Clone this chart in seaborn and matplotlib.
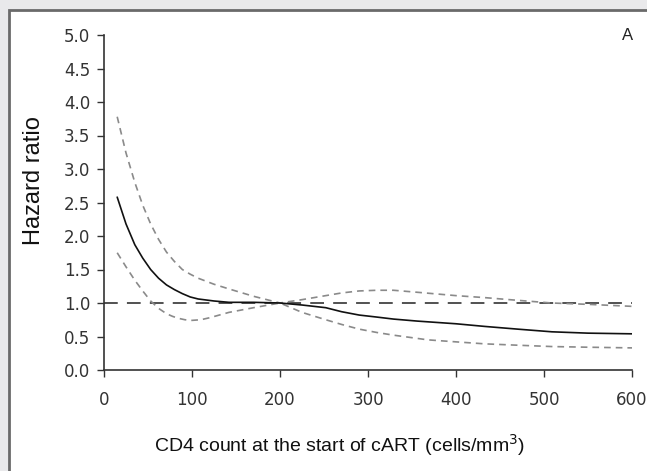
import matplotlib.pyplot as plt
import matplotlib.patches as mpatches
import pandas as pd
import seaborn as sns

# CD4 count at start of cART (cells/mm3)
hr_x = [15, 25, 35, 44, 53, 62, 71, 80, 89, 98, 107, 125, 142, 170, 200, 225, 252, 270, 290, 310, 329, 356, 400, 433, 470, 509, 550, 600]
hr_y = [2.58, 2.18, 1.87, 1.67, 1.50, 1.37, 1.27, 1.20, 1.14, 1.09, 1.06, 1.03, 1.01, 1.01, 1.00, 0.97, 0.93, 0.87, 0.82, 0.79, 0.76, 0.73, 0.69, 0.65, 0.61, 0.57, 0.55, 0.54]

upper_x = [15, 25, 35, 44, 53, 62, 71, 80, 89, 98, 107, 125, 142, 170, 200, 225, 252, 270, 290, 310, 329, 356, 400, 433, 470, 509, 550, 600]
upper_y = [3.78, 3.24, 2.80, 2.46, 2.18, 1.95, 1.76, 1.62, 1.50, 1.43, 1.37, 1.28, 1.21, 1.10, 1.00, 1.05, 1.11, 1.15, 1.18, 1.19, 1.19, 1.16, 1.11, 1.08, 1.04, 1.00, 0.98, 0.95]

lower_x = [15, 25, 35, 44, 53, 62, 71, 78, 85, 92, 99, 110, 120, 142, 170, 200, 225, 252, 270, 290, 310, 329, 368, 400, 433, 470, 509, 550, 600]
lower_y = [1.75, 1.54, 1.34, 1.18, 1.03, 0.92, 0.84, 0.80, 0.77, 0.75, 0.74, 0.75, 0.78, 0.86, 0.93, 1.00, 0.86, 0.75, 0.68, 0.61, 0.56, 0.52, 0.45, 0.42, 0.39, 0.37, 0.35, 0.34, 0.33]

ref_x = [0, 600]
ref_y = [1.0, 1.0]

x_ticks = [0, 100, 200, 300, 400, 500, 600]
y_ticks = [0.0, 0.5, 1.0, 1.5, 2.0, 2.5, 3.0, 3.5, 4.0, 4.5, 5.0]

sns.set_style("ticks")
plt.rcParams["font.family"] = ["Liberation Sans", "DejaVu Sans"]

fig = plt.figure(figsize=(6.47, 4.71), dpi=100, facecolor="#e9e9eb")
# white panel with a grey border, cropped at right and bottom
panel = mpatches.Rectangle((9 / 647, -0.1), 1.2, 1.1 - 10 / 471,
                           transform=fig.transFigure, facecolor="white",
                           edgecolor="#6a6a6a", linewidth=2, zorder=-5)
fig.patches.append(panel)

ax = fig.add_axes([104 / 647, 1 - 370 / 471, (632 - 104) / 647, (370 - 35) / 471])
ax.patch.set_alpha(0)

sns.lineplot(x=ref_x, y=ref_y, ax=ax, color="#222222", linewidth=1.1,
             linestyle=(0, (9, 6)))
sns.lineplot(x=upper_x, y=upper_y, ax=ax, color="#8a8a8a", linewidth=1.2,
             linestyle=(0, (4, 3)))
sns.lineplot(x=lower_x, y=lower_y, ax=ax, color="#8a8a8a", linewidth=1.2,
             linestyle=(0, (4, 3)))
sns.lineplot(x=hr_x, y=hr_y, ax=ax, color="#111111", linewidth=1.2)

ax.set_xlim(0, 600)
ax.set_ylim(0, 5)
ax.set_xticks(x_ticks)
ax.set_yticks(y_ticks)
ax.set_yticklabels([f"{v:.1f}" for v in y_ticks])
sns.despine(ax=ax)
for side in ["left", "bottom"]:
    ax.spines[side].set_color("#333333")
    ax.spines[side].set_linewidth(1.2)
ax.tick_params(axis="y", length=5, width=1, color="#333333", pad=5,
               labelsize=12, labelcolor="#333333")
ax.tick_params(axis="x", length=5, width=1, color="#333333", pad=10,
               labelsize=12, labelcolor="#333333")
for lab in ax.get_xticklabels() + ax.get_yticklabels():
    lab.set_family("DejaVu Sans")

ax.set_ylabel("Hazard ratio", fontsize=17, color="#111111", va="center")
ax.yaxis.set_label_coords((34 - 104) / 528, (370 - 181) / 335)
ax.set_xlabel("CD4 count at the start of cART (cells/mm$^3$)", fontsize=14,
              color="#111111", va="center")
ax.xaxis.set_label_coords((340 - 104) / 528, (370 - 445) / 335)
fig.text(628 / 647, 1 - 35 / 471, "A", fontsize=12, color="#222222",
         ha="center", va="center")

plt.savefig("out.png", dpi=100, facecolor=fig.get_facecolor())
plt.close()
